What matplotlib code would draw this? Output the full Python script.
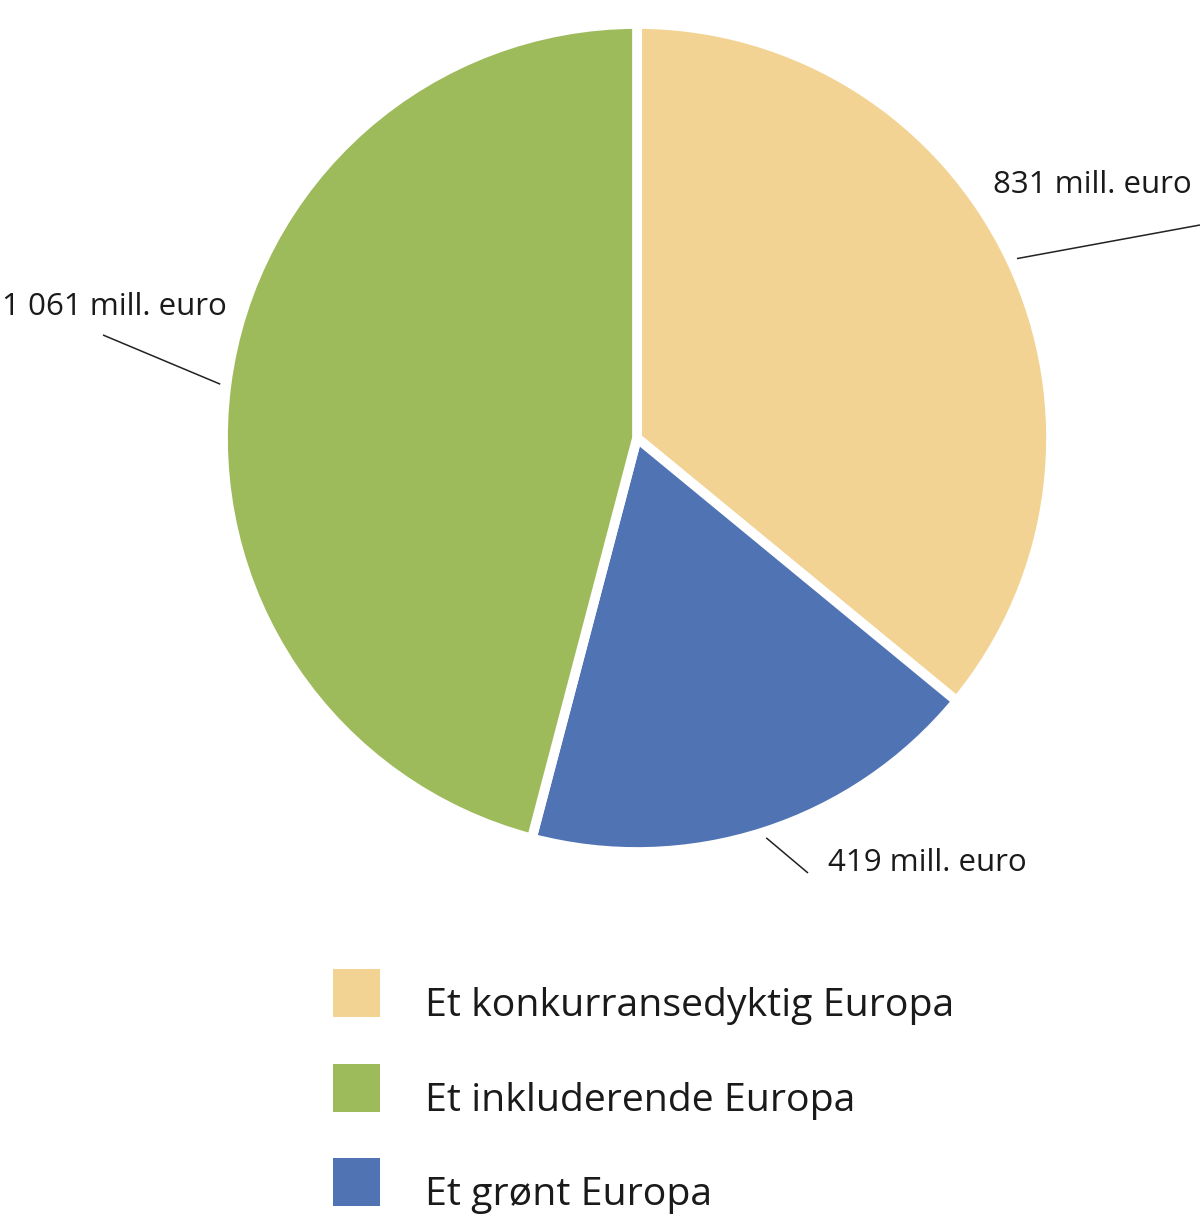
import numpy as np
import matplotlib
matplotlib.use("Agg")
import matplotlib.pyplot as plt

categories = ["Et konkurransedyktig Europa", "Et grønt Europa", "Et inkluderende Europa"]
values = [831, 419, 1061]
value_labels = ["831 mill. euro", "419 mill. euro", "1 061 mill. euro"]
colors = ["#F2D393", "#5073B4", "#9EBB5C"]
legend_order = [0, 2, 1]

plt.rcParams['font.family'] = ['Open Sans', 'DejaVu Sans']

W, H = 1200, 1231
fig = plt.figure(figsize=(W / 100, H / 100), dpi=100)
ax = fig.add_axes([0, 0, 1, 1])

cx, cy, R = 637, H - 438, 414
wedges, _ = ax.pie(values, colors=colors, startangle=90, counterclock=False,
                   center=(cx, cy), radius=R, frame=True,
                   wedgeprops=dict(edgecolor='white', linewidth=7))
ax.set_xlim(0, W)
ax.set_ylim(0, H)
ax.set_aspect('equal')
ax.axis('off')

# label positions (text anchor, line end) in pixel coords from top-left
label_text = [(993, 185), (828, 863), (2, 307)]
line_end = [(1200, 225), (808, 873), (103, 335)]

for i, w in enumerate(wedges):
    ang = np.deg2rad((w.theta1 + w.theta2) / 2)
    sx = cx + 1.015 * R * np.cos(ang)
    sy = cy + 1.015 * R * np.sin(ang)
    ex, ey = line_end[i]
    ax.plot([sx, ex], [sy, H - ey], color='#222222', lw=1.1, solid_capstyle='butt')
    tx, ty = label_text[i]
    ax.text(tx, H - ty, value_labels[i], ha='left', va='center',
            fontsize=22.5, color='#1a1a1a')

handles = [wedges[i] for i in legend_order]
labels = [categories[i] for i in legend_order]
fs = 28.3
leg = fig.legend(handles, labels, loc='upper left',
                 bbox_to_anchor=(333 / W, 1 - 969 / H), frameon=False,
                 fontsize=fs, handlelength=34 / fs, handleheight=1.5,
                 handletextpad=32 / fs, labelspacing=1.19, borderpad=0,
                 borderaxespad=0)
for t in leg.get_texts():
    t.set_color('#1a1a1a')
    t.set_y(-10)
for p in leg.get_patches():
    p.set_edgecolor('none')
    p.set_linewidth(0)

fig.savefig("out.png", dpi=100, facecolor='white')
